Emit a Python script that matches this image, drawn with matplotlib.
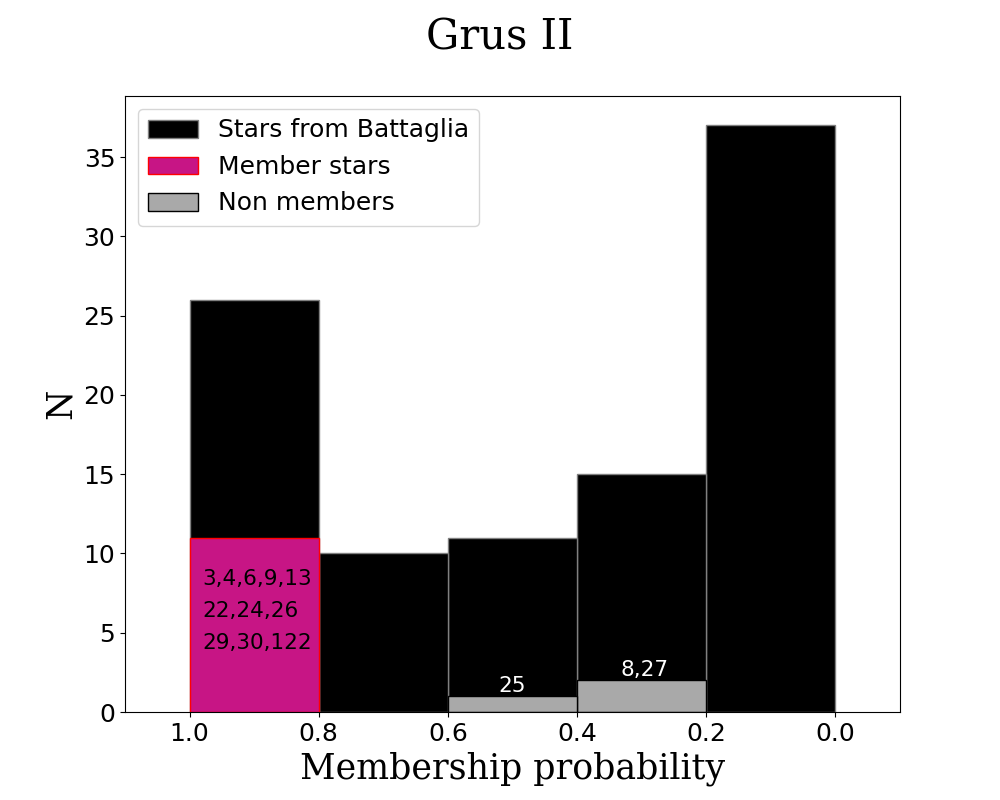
import matplotlib
matplotlib.use("Agg")
import matplotlib.pyplot as plt
import numpy as np

# Histogram of membership probability (bins of 0.2)
bin_left = [0.0, 0.2, 0.4, 0.6, 0.8]
all_counts = [37, 15, 11, 10, 26]
member_counts = [0, 0, 0, 0, 11]
nonmember_counts = [0, 2, 1, 0, 0]

member_ids = ["3,4,6,9,13", "22,24,26", "29,30,122"]
nonmember_labels = ["8,27", "25"]
nonmember_pos = [0.295, 0.5]
nonmember_h = [2, 1]

fig, ax = plt.subplots(figsize=(10, 8), dpi=100)

ax.bar(bin_left, all_counts, width=0.2, align="edge", color="black",
       edgecolor="gray", linewidth=1.0, label="Stars from Battaglia")
m = np.array(member_counts) > 0
ax.bar(np.array(bin_left)[m], np.array(member_counts)[m], width=0.2, align="edge",
       color="mediumvioletred", edgecolor="red", linewidth=1.0, label="Member stars")
n = np.array(nonmember_counts) > 0
ax.bar(np.array(bin_left)[n], np.array(nonmember_counts)[n], width=0.2, align="edge",
       color="darkgray", edgecolor="black", linewidth=1.0, label="Non members")

# star ids
for i, s in enumerate(member_ids):
    ax.text(0.98, 8.4 - 2.02 * i, s, fontsize=15.5, color="black", ha="left", va="center")
for x, h, s in zip(nonmember_pos, nonmember_h, nonmember_labels):
    ax.text(x, h + 0.02, s, fontsize=15.5, color="white", ha="center", va="bottom")

ax.set_xlim(1.1, -0.1)
ax.set_xticks([1.0, 0.8, 0.6, 0.4, 0.2, 0.0])
ax.set_xticklabels(["1.0", "0.8", "0.6", "0.4", "0.2", "0.0"])
ax.tick_params(labelsize=18)
ax.set_xlabel("Membership probability", fontsize=25, family="DejaVu Serif")
ax.set_ylabel("N", fontsize=25, family="DejaVu Serif")
fig.suptitle("Grus II", fontsize=30, family="DejaVu Serif", y=0.98)
ax.legend(loc="upper left", fontsize=18)

plt.savefig("out.png")
